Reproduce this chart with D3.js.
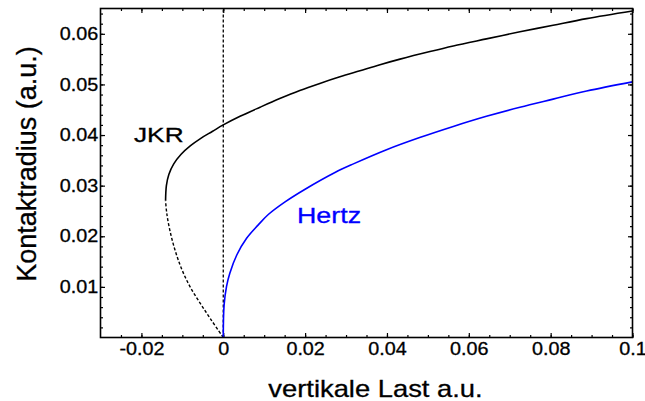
<!DOCTYPE html>
<html>
<head>
<meta charset="utf-8">
<script src="https://cdn.jsdelivr.net/npm/d3@7"></script>
<style>
  html, body { margin: 0; padding: 0; background: #fff; }
  svg { display: block; font-family: "Liberation Sans", Arial, sans-serif; }
</style>
</head>
<body>
<div id="chart"></div>
<script>
// values (load F, contact radius a)
const hertzLoad = [0, 0.0002, 0.0008, 0.0016, 0.0033, 0.0057, 0.0085, 0.0110, 0.0151, 0.0200,
    0.0273, 0.0318, 0.0399, 0.0480, 0.0562, 0.0643, 0.0725, 0.0806, 0.0888, 0.1];
const hertzRadius = [0, 0.0064, 0.0101, 0.0127, 0.0163, 0.0196, 0.0222, 0.0243, 0.0268, 0.0293,
    0.0326, 0.0343, 0.0371, 0.0395, 0.0417, 0.0437, 0.0455, 0.0471, 0.0487, 0.0505];

const jkrStableLoad = [-0.0141, -0.0139, -0.0133, -0.0121, -0.0103, -0.0080, -0.0054, -0.0027, 0,
    0.0041, 0.0090, 0.0138, 0.0187, 0.0236, 0.0285, 0.0334, 0.0383, 0.0432, 0.0505, 0.0562,
    0.0643, 0.0725, 0.0806, 0.0888, 0.1];
const jkrStableRadius = [0.0270, 0.0300, 0.0322, 0.0343, 0.0362, 0.0379, 0.0394, 0.0407, 0.0420,
    0.0437, 0.0455, 0.0472, 0.0488, 0.0502, 0.0515, 0.0527, 0.0539, 0.0550, 0.0565, 0.0576,
    0.0590, 0.0604, 0.0617, 0.0630, 0.0645];

const jkrUnstableLoad = [0, -0.0028, -0.0055, -0.0081, -0.0102, -0.0118, -0.0130, -0.0138, -0.0141];
const jkrUnstableRadius = [0, 0.0033, 0.0066, 0.0100, 0.0136, 0.0173, 0.0210, 0.0245, 0.0270];

const xTickLabels = [-0.02, 0, 0.02, 0.04, 0.06, 0.08, 0.1];
const xMinorTicks = d3.range(-0.025, 0.1001, 0.005);
const yTickLabels = [0.01, 0.02, 0.03, 0.04, 0.05, 0.06];
const yMinorTicks = d3.range(0.002, 0.065, 0.002);

const width = 645;
const height = 401;
const margin = { top: 8.5, right: 12.5, bottom: 63.5, left: 100.5 };

const svg = d3.select("#chart")
    .append("svg")
    .attr("width", width)
    .attr("height", height);

const x = d3.scaleLinear()
    .domain([-0.03, 0.1])
    .range([margin.left, width - margin.right]);

const y = d3.scaleLinear()
    .domain([0, 0.065])
    .range([height - margin.bottom, margin.top]);

const fmt = d => d === 0 ? "0" : String(+d.toFixed(3));

// minor ticks on all four sides (pointing inward)
svg.append("g")
    .attr("transform", `translate(0,${y(0)})`)
    .call(d3.axisBottom(x).tickValues(xMinorTicks).tickSize(-2.5).tickFormat(""));
svg.append("g")
    .attr("transform", `translate(0,${margin.top})`)
    .call(d3.axisTop(x).tickValues(xMinorTicks).tickSize(-2.5).tickFormat(""));
svg.append("g")
    .attr("transform", `translate(${margin.left},0)`)
    .call(d3.axisLeft(y).tickValues(yMinorTicks).tickSize(-2.5).tickFormat(""));
svg.append("g")
    .attr("transform", `translate(${width - margin.right},0)`)
    .call(d3.axisRight(y).tickValues(yMinorTicks).tickSize(-2.5).tickFormat(""));

// labelled ticks
const xAxis = svg.append("g")
    .attr("transform", `translate(0,${y(0)})`)
    .call(d3.axisBottom(x).tickValues(xTickLabels).tickSize(-4.5).tickPadding(5.5).tickFormat(fmt));
svg.append("g")
    .attr("transform", `translate(0,${margin.top})`)
    .call(d3.axisTop(x).tickValues(xTickLabels).tickSize(-4.5).tickFormat(""));
const yAxis = svg.append("g")
    .attr("transform", `translate(${margin.left},0)`)
    .call(d3.axisLeft(y).tickValues(yTickLabels).tickSize(-4.5).tickPadding(2).tickFormat(fmt));
svg.append("g")
    .attr("transform", `translate(${width - margin.right},0)`)
    .call(d3.axisRight(y).tickValues(yTickLabels).tickSize(-4.5).tickFormat(""));

svg.selectAll(".domain").remove();
svg.selectAll(".tick line").style("stroke", "#000").style("stroke-width", 1.2);

[xAxis, yAxis].forEach(g => g.selectAll("text")
    .style("font-size", "17.5px")
    .style("fill", "#000")
    .style("stroke", "#000")
    .style("stroke-width", 0.3)
    .attr("transform", "scale(1.13,1)"));

// vertical dashed line at zero load
svg.append("line")
    .attr("x1", x(0)).attr("x2", x(0))
    .attr("y1", y(0)).attr("y2", margin.top)
    .style("stroke", "#000")
    .style("stroke-width", 1.3)
    .style("stroke-dasharray", "3,2");

const line = d3.line()
    .x(d => x(d[0]))
    .y(d => y(d[1]))
    .curve(d3.curveCatmullRom.alpha(0.5));

svg.append("path")
    .datum(d3.zip(jkrUnstableLoad, jkrUnstableRadius))
    .attr("d", line)
    .style("fill", "none")
    .style("stroke", "#000")
    .style("stroke-width", 1.4)
    .style("stroke-dasharray", "3,2");

svg.append("path")
    .datum(d3.zip(jkrStableLoad, jkrStableRadius))
    .attr("d", line)
    .style("fill", "none")
    .style("stroke", "#000")
    .style("stroke-width", 1.6);

svg.append("path")
    .datum(d3.zip(hertzLoad, hertzRadius))
    .attr("d", line)
    .style("fill", "none")
    .style("stroke", "#0000ff")
    .style("stroke-width", 1.6);

// frame
svg.append("rect")
    .attr("x", margin.left)
    .attr("y", margin.top)
    .attr("width", width - margin.left - margin.right)
    .attr("height", y(0) - margin.top)
    .style("fill", "none")
    .style("stroke", "#000")
    .style("stroke-width", 1.6);

// labels
const label = (txt, px, py, size, sx, color, anchor) => svg.append("text")
    .attr("transform", `translate(${px},${py}) scale(${sx},1)`)
    .attr("text-anchor", anchor || "start")
    .style("font-size", size + "px")
    .style("fill", color || "#000")
    .style("stroke", color || "#000")
    .style("stroke-width", 0.3)
    .text(txt);

label("JKR", 134, 142, 21, 1.25);
label("Hertz", 297, 223, 22, 1.22, "#0000ff");
label("vertikale Last a.u.", 375.5, 397, 23, 1.19, "#000", "middle");

svg.append("text")
    .attr("transform", "translate(36,164) rotate(-90)")
    .attr("text-anchor", "middle")
    .style("font-size", "27px")
    .style("fill", "#000")
    .style("stroke", "#000")
    .style("stroke-width", 0.3)
    .text("Kontaktradius (a.u.)");
</script>
</body>
</html>
